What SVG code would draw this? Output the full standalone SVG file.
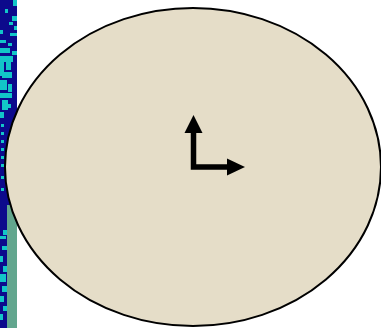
<svg xmlns="http://www.w3.org/2000/svg" width="381" height="328" viewBox="0 0 381 328">
<style>
.navy{fill:#0c0a8c}
.cy{fill:#12c6c8}
.gr{fill:#62a68e}
.arrow{fill:#000}
</style>
<rect width="381" height="328" fill="#fff"/>
<g id="strip">
<rect class="navy" x="0" y="0" width="17" height="328"/>
<rect class="cy" x="13" y="0" width="4" height="6"/>
<rect class="cy" x="5" y="9" width="3" height="4"/>
<rect class="cy" x="12" y="16" width="5" height="5"/>
<rect class="cy" x="9" y="22" width="4" height="3"/>
<rect class="cy" x="14" y="26" width="3" height="4"/>
<rect class="cy" x="0" y="30" width="3" height="4"/>
<rect class="cy" x="10" y="33" width="7" height="3"/>
<rect class="cy" x="0" y="40" width="6" height="3"/>
<rect class="cy" x="8" y="43" width="4" height="3"/>
<rect class="cy" x="0" y="48" width="10" height="5"/>
<rect class="cy" x="12" y="51" width="5" height="4"/>
<rect class="cy" x="0" y="56" width="13" height="6"/>
<rect class="cy" x="0" y="62" width="4" height="14"/>
<rect class="cy" x="6" y="62" width="5" height="8"/>
<rect class="cy" x="2" y="72" width="10" height="6"/>
<rect class="cy" x="0" y="80" width="7" height="10"/>
<rect class="cy" x="8" y="84" width="4" height="8"/>
<rect class="cy" x="0" y="93" width="12" height="5"/>
<rect class="cy" x="2" y="100" width="6" height="10"/>
<rect class="cy" x="0" y="112" width="4" height="6"/>
<rect class="cy" x="8" y="104" width="3" height="4"/>
<rect class="cy" x="1" y="124" width="3" height="3"/>
<rect class="cy" x="1" y="132" width="3" height="3"/>
<rect class="cy" x="1" y="140" width="3" height="3"/>
<rect class="cy" x="1" y="148" width="3" height="3"/>
<rect class="cy" x="1" y="156" width="3" height="3"/>
<rect class="cy" x="1" y="164" width="3" height="3"/>
<rect class="cy" x="1" y="176" width="3" height="3"/>
<rect class="cy" x="1" y="188" width="3" height="3"/>
<rect class="gr" x="7" y="205" width="10" height="123"/>
<rect class="cy" x="3" y="230" width="4" height="5"/>
<rect class="cy" x="0" y="236" width="6" height="3"/>
<rect class="cy" x="2" y="246" width="5" height="4"/>
<rect class="cy" x="0" y="256" width="3" height="6"/>
<rect class="cy" x="3" y="266" width="4" height="6"/>
<rect class="cy" x="0" y="274" width="6" height="8"/>
<rect class="cy" x="2" y="286" width="5" height="6"/>
<rect class="cy" x="0" y="296" width="4" height="6"/>
<rect class="cy" x="3" y="306" width="4" height="5"/>
<rect class="cy" x="0" y="314" width="3" height="6"/>
</g>
<g id="ellipse">
<ellipse cx="193" cy="167" rx="188" ry="159" fill="#e5ddc8" stroke="#000" stroke-width="2"/>
</g>
<g id="connectors">
<path d="M193.5 132 V167 H228" fill="none" stroke="#000" stroke-width="5.5"/>
<polygon class="arrow" points="193.5,115 202.5,133 184.5,133"/>
<polygon class="arrow" points="245,167 227,158.5 227,175.5"/>
</g>
</svg>
